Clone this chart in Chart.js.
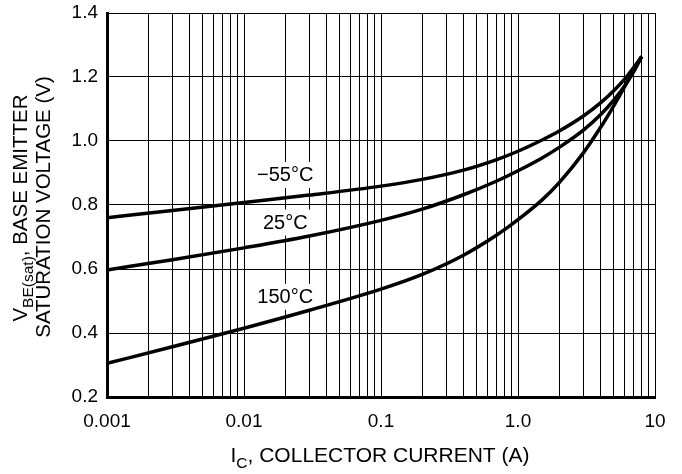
<!DOCTYPE html>
<html>
<head>
<meta charset="utf-8">
<script src="https://cdn.jsdelivr.net/npm/chart.js@4.4.0/dist/chart.umd.min.js"></script>
<style>
  html, body { margin: 0; padding: 0; background: #fff; }
  #wrap { width: 682px; height: 474px; position: relative; }
</style>
</head>
<body>
<div id="wrap"><canvas id="chart"></canvas></div>
<script>
// collector current (A) and base-emitter saturation voltage (V)
const currents   = [0.001, 0.003, 0.01, 0.03, 0.1, 0.2, 0.4, 0.7, 1, 1.5, 2, 3, 4, 5, 6, 7, 8];
const vbeMinus55 = [0.760, 0.783, 0.808, 0.831, 0.859, 0.880, 0.909, 0.942, 0.968, 1.003, 1.031, 1.078, 1.119, 1.157, 1.193, 1.230, 1.264];
const vbe25      = [0.597, 0.629, 0.666, 0.703, 0.752, 0.787, 0.832, 0.875, 0.907, 0.947, 0.980, 1.034, 1.082, 1.128, 1.172, 1.217, 1.264];
const vbe150     = [0.305, 0.357, 0.415, 0.471, 0.537, 0.583, 0.643, 0.706, 0.754, 0.816, 0.870, 0.963, 1.042, 1.110, 1.170, 1.224, 1.264];

// curve labels (text, position in data units)
const curveLabels = ['\u221255\u00b0C', '25\u00b0C', '150\u00b0C'];
const curveLabelX = [0.02, 0.02, 0.02];
const curveLabelY = [0.894, 0.745, 0.513];

// axes
const xDecades    = [0.001, 0.01, 0.1, 1, 10];
const xTickLabels = ['0.001', '0.01', '0.1', '1.0', '10'];
const yTickValues = [0.2, 0.4, 0.6, 0.8, 1.0, 1.2, 1.4];
const yTickLabels = ['0.2', '0.4', '0.6', '0.8', '1.0', '1.2', '1.4'];

const FONT = '"Liberation Sans", Arial, Helvetica, sans-serif';

// minor log grid: 1..9 inside every decade
const xGrid = [];
xDecades.forEach((d, i) => {
  if (i === xDecades.length - 1) { xGrid.push(d); return; }
  for (let k = 1; k <= 9; k++) xGrid.push(Number((k * d).toPrecision(6)));
});

function toPoints(ys) {
  return currents.map((x, i) => ({ x, y: ys[i] }));
}

function line(ys) {
  return {
    data: toPoints(ys),
    borderColor: '#000',
    borderWidth: 3.5,
    pointRadius: 0,
    fill: false,
    cubicInterpolationMode: 'monotone'
  };
}

// curve labels with a white box over the grid
const labelPlugin = {
  id: 'curveLabels',
  beforeDatasetsDraw(chart) {
    const { ctx, scales } = chart;
    ctx.save();
    ctx.font = '20px ' + FONT;
    ctx.textAlign = 'center';
    ctx.textBaseline = 'middle';
    curveLabels.forEach((t, i) => {
      const x = scales.x.getPixelForValue(curveLabelX[i]);
      const y = scales.y.getPixelForValue(curveLabelY[i]);
      const w = ctx.measureText(t).width + 6;
      ctx.fillStyle = '#fff';
      ctx.fillRect(x - w / 2, y - 13, w, 26);
      ctx.fillStyle = '#000';
      ctx.fillText(t, x, y + 1);
    });
    ctx.restore();
  }
};

// axis titles with subscripts
function drawParts(ctx, parts, cx, baseY) {
  let total = 0;
  parts.forEach(p => { ctx.font = p.size + 'px ' + FONT; p.w = ctx.measureText(p.text).width; total += p.w; });
  let x = cx - total / 2;
  parts.forEach(p => {
    ctx.font = p.size + 'px ' + FONT;
    ctx.fillText(p.text, x, baseY + (p.sub ? 6 : 0));
    x += p.w;
  });
}

const titlePlugin = {
  id: 'axisTitles',
  afterDraw(chart) {
    const { ctx } = chart;
    ctx.save();
    ctx.fillStyle = '#000';
    ctx.textAlign = 'left';
    ctx.textBaseline = 'alphabetic';
    drawParts(ctx, [
      { text: 'I', size: 21 },
      { text: 'C', size: 15.5, sub: true },
      { text: ', COLLECTOR CURRENT (A)', size: 21 }
    ], 380, 462);

    ctx.save();
    ctx.translate(27, 208);
    ctx.rotate(-Math.PI / 2);
    drawParts(ctx, [
      { text: 'V', size: 20.5 },
      { text: 'BE(sat)', size: 15.5, sub: true },
      { text: ', BASE EMITTER', size: 20.5 }
    ], 0, 0);
    ctx.restore();

    ctx.save();
    ctx.translate(50, 207);
    ctx.rotate(-Math.PI / 2);
    drawParts(ctx, [{ text: 'SATURATION VOLTAGE (V)', size: 20.5 }], 0, 0);
    ctx.restore();
    ctx.restore();
  }
};

new Chart(document.getElementById('chart').getContext('2d'), {
  type: 'line',
  data: {
    datasets: [line(vbeMinus55), line(vbe25), line(vbe150)]
  },
  options: {
    responsive: true,
    maintainAspectRatio: false,
    animation: false,
    layout: { padding: { top: 13, right: 27, left: 0, bottom: 0 } },
    plugins: { legend: { display: false }, tooltip: { enabled: false } },
    scales: {
      x: {
        type: 'logarithmic',
        min: 0.001,
        max: 10,
        afterBuildTicks: s => { s.ticks = xGrid.map(v => ({ value: v })); },
        afterFit: s => { s.height = 77; s.paddingLeft = 0; s.paddingRight = 0; },
        grid: { color: '#000', lineWidth: 1, drawTicks: false },
        border: { display: true, color: '#000', width: 3 },
        ticks: {
          autoSkip: false,
          maxRotation: 0,
          padding: 13,
          color: '#000',
          font: { family: FONT, size: 19 },
          callback: v => {
            const i = xDecades.findIndex(d => Math.abs(d - v) < d * 1e-6);
            return i >= 0 ? xTickLabels[i] : '';
          }
        }
      },
      y: {
        type: 'linear',
        min: 0.2,
        max: 1.4,
        afterBuildTicks: s => { s.ticks = yTickValues.map(v => ({ value: v })); },
        afterFit: s => { s.width = 107; s.paddingTop = 0; s.paddingBottom = 0; },
        grid: { color: '#000', lineWidth: 1, drawTicks: false },
        border: { display: true, color: '#000', width: 3 },
        ticks: {
          padding: 9,
          color: '#000',
          font: { family: FONT, size: 19 },
          callback: (v, i) => yTickLabels[i]
        }
      }
    }
  },
  plugins: [labelPlugin, titlePlugin]
});
</script>
</body>
</html>
